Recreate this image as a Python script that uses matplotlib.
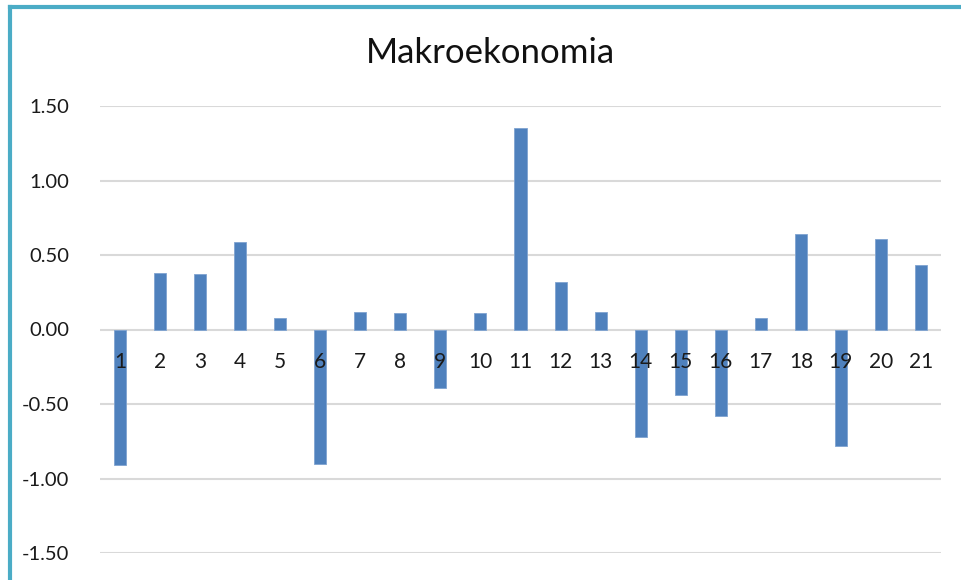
import matplotlib
matplotlib.use("Agg")
import matplotlib.pyplot as plt
from matplotlib.lines import Line2D
from matplotlib.transforms import offset_copy

title = "Makroekonomia"
categories = [str(i) for i in range(1, 22)]
values = [-0.91, 0.38, 0.37, 0.59, 0.08, -0.90, 0.12, 0.11, -0.39, 0.11,
          1.35, 0.32, 0.12, -0.72, -0.44, -0.58, 0.08, 0.64, -0.78, 0.61, 0.43]
yticks = [-1.5, -1.0, -0.5, 0.0, 0.5, 1.0, 1.5]

W, H = 961, 580
fig = plt.figure(figsize=(W / 100, H / 100), dpi=100)
fig.patch.set_facecolor("white")
plt.rcParams['font.family'] = ['Lato', 'DejaVu Sans']

ax = fig.add_axes([100 / W, (H - 553) / H, (941 - 100) / W, (553 - 106) / H])
x = list(range(len(categories)))
ax.bar(x, values, width=0.3, color="#4F81BD", edgecolor="#7FA3D0", linewidth=0.6, zorder=3)
ax.set_xlim(-0.5, len(categories) - 0.5)
ax.set_ylim(-1.5, 1.5)
ax.set_yticks(yticks)
ax.set_yticklabels([f"{v:.2f}" for v in yticks], fontsize=14.5, color="#1a1a1a")
ax.yaxis.grid(True, color="#D9D9D9", linewidth=1.5, zorder=0)
ax.set_axisbelow(True)
ax.tick_params(axis='y', length=0, pad=22)
for s in ax.spines.values():
    s.set_visible(False)
ax.set_xticks([])

trans = offset_copy(ax.transData, fig=fig, x=0, y=-33, units='dots')
for xi, lab in zip(x, categories):
    ax.text(xi, 0, lab, transform=trans, ha='center', va='center',
            fontsize=15, color="#1a1a1a", zorder=5)

fig.text(490 / W, 1 - 53 / H, title, ha='center', va='center', fontsize=25, color="#111111")

# frame border (teal)
fig.add_artist(Line2D([10 / W, 10 / W], [0, 1 - 7 / H], color="#4BACC6", linewidth=3, transform=fig.transFigure))
fig.add_artist(Line2D([10 / W, 1], [1 - 7 / H, 1 - 7 / H], color="#4BACC6", linewidth=3, transform=fig.transFigure))

fig.savefig("out.png", dpi=100, facecolor="white")
